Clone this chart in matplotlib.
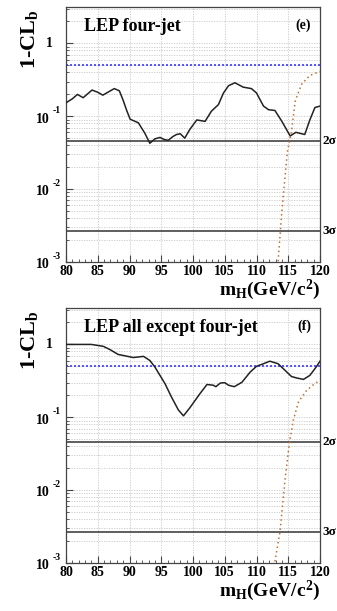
import numpy as np
import matplotlib
matplotlib.use("Agg")
import matplotlib.pyplot as plt
from matplotlib.ticker import MultipleLocator, LogLocator, NullFormatter, FixedLocator
import matplotlib.transforms as mtransforms

plt.rcParams['font.family'] = ['Liberation Serif', 'DejaVu Serif']
plt.rcParams['mathtext.fontset'] = 'custom'
plt.rcParams['mathtext.rm'] = 'Liberation Serif:bold'
plt.rcParams['mathtext.bf'] = 'Liberation Serif:bold'
plt.rcParams['mathtext.it'] = 'Liberation Serif:bold'

# ---- data: panel (e) LEP four-jet, observed 1-CLb (log10 values) ----
mh_e = [80.0, 81.0, 81.8, 82.7, 84.1, 85.0, 85.8, 86.8, 87.6, 88.4, 89.0, 89.6, 90.1,
        91.4, 92.4, 93.2, 94.0, 94.8, 95.5, 96.1, 96.8, 97.4, 98.0, 98.7, 99.5, 100.6,
        101.9, 102.9, 104.0, 104.8, 105.6, 106.6, 107.9, 109.2, 110.0, 111.1, 111.9,
        112.9, 114.0, 115.3, 116.2, 117.6, 118.4, 119.2, 120.0]
log_clb_e = [-0.815, -0.76, -0.70, -0.745, -0.64, -0.67, -0.71, -0.66, -0.62, -0.65, -0.78,
             -0.93, -1.04, -1.09, -1.23, -1.37, -1.31, -1.29, -1.32, -1.33, -1.28, -1.25,
             -1.24, -1.30, -1.18, -1.05, -1.07, -0.93, -0.84, -0.68, -0.58, -0.54, -0.60,
             -0.62, -0.68, -0.86, -0.91, -0.92, -1.07, -1.27, -1.22, -1.25, -1.05, -0.88,
             -0.86]

# expected 1-CLb for signal+background (panel e)
mh_sig_e = [113.4, 114.0, 114.85, 115.2, 115.5, 116.1, 117.1, 118.4, 120.0]
log_sig_e = [-2.99, -2.30, -1.49, -1.35, -1.21, -0.79, -0.56, -0.44, -0.385]

# ---- data: panel (f) LEP all except four-jet ----
mh_f = [80.0, 82.0, 84.0, 85.9, 86.9, 88.2, 90.6, 92.2, 93.2, 94.0, 95.6, 96.6, 97.7,
        98.5, 99.5, 101.1, 102.2, 103.2, 103.6, 104.3, 105.0, 105.6, 106.5, 107.7,
        109.0, 110.0, 111.1, 112.1, 113.4, 114.5, 115.5, 116.3, 117.4, 118.4, 119.4,
        120.0]
log_clb_f = [0.0, 0.0, 0.0, -0.027, -0.07, -0.137, -0.18, -0.164, -0.22, -0.31, -0.54,
             -0.72, -0.90, -0.98, -0.87, -0.675, -0.55, -0.56, -0.58, -0.53, -0.525,
             -0.56, -0.58, -0.52, -0.38, -0.30, -0.265, -0.23, -0.265, -0.356, -0.44,
             -0.46, -0.48, -0.425, -0.31, -0.23]

mh_sig_f = [112.9, 113.7, 114.5, 115.2, 115.8, 116.6, 117.9, 119.0, 120.0]
log_sig_f = [-2.98, -2.57, -1.85, -1.34, -1.04, -0.79, -0.63, -0.55, -0.49]

panels = [
    dict(mh=mh_e, obs=log_clb_e, mhs=mh_sig_e, sig=log_sig_e, title='LEP four-jet', tag='(e)'),
    dict(mh=mh_f, obs=log_clb_f, mhs=mh_sig_f, sig=log_sig_f, title='LEP all except four-jet', tag='(f)'),
]
median_level = 0.5
sigma_levels = [(0.0455, '2σ'), (0.0027, '3σ')]
xticks = [80, 85, 90, 95, 100, 105, 110, 115, 120]

W, H = 337, 611
fig = plt.figure(figsize=(W / 100, H / 100), dpi=100)

def px_axes(l, t, r, b):
    return fig.add_axes([l / W, 1 - b / H, (r - l) / W, (b - t) / H])

axes_px = [(66, 7, 320, 262), (66, 308, 320, 563)]
gridc = '#c8c8c8'

for (l, t, r, b), p in zip(axes_px, panels):
    ax = px_axes(l, t, r, b)
    ax.set_yscale('log')
    ax.set_xlim(80, 120)
    ax.set_ylim(1e-3, 10 ** 0.5)
    for s in ax.spines.values():
        s.set_color('#444444')
        s.set_linewidth(0.9)
    # grid
    for xv in xticks[1:-1]:
        ax.axvline(xv, color=gridc, lw=0.6, ls=(0, (1.5, 1.5)), zorder=0)
    for k in range(-3, 1):
        for m in range(1, 10):
            yv = m * 10.0 ** k
            if 1e-3 < yv < 10 ** 0.5:
                ax.axhline(yv, color=gridc, lw=0.6, ls=(0, (1.5, 1.5)), zorder=0)
    ax.xaxis.set_major_locator(FixedLocator(xticks))
    ax.xaxis.set_minor_locator(MultipleLocator(1))
    ax.yaxis.set_major_locator(LogLocator(base=10, numticks=10))
    ax.yaxis.set_minor_locator(LogLocator(base=10, subs=np.arange(2, 10), numticks=20))
    ax.yaxis.set_major_formatter(NullFormatter())
    ax.yaxis.set_minor_formatter(NullFormatter())
    ax.tick_params(which='both', direction='in', top=False, right=False, color='#444444')
    ax.tick_params(axis='x', which='major', length=5, width=0.8, pad=2.5)
    ax.tick_params(axis='x', which='minor', length=2.5, width=0.6)
    ax.tick_params(axis='y', which='major', length=5, width=0.8)
    ax.tick_params(axis='y', which='minor', length=2.5, width=0.6)
    ax.set_xticklabels([str(v) for v in xticks], fontsize=10, fontweight='bold')

    # y tick labels in ROOT style
    trans = mtransforms.blended_transform_factory(ax.transAxes, ax.transData)
    ax.text(-0.052, 1.0, '1', transform=trans, ha='right', va='center',
            fontsize=10, fontweight='bold')
    for k in [-1, -2, -3]:
        yv = 10.0 ** k
        t1 = mtransforms.offset_copy(trans, fig=fig, x=0, y=-2, units='points')
        ax.text(-0.063, yv, '10', transform=t1, ha='right', va='center',
                fontsize=10, fontweight='bold')
        t2 = mtransforms.offset_copy(trans, fig=fig, x=0, y=4, units='points')
        ax.text(-0.051, yv, str(k), transform=t2, ha='left', va='center',
                fontsize=7, fontweight='bold')

    # reference lines
    ax.axhline(median_level, color='#3a3aff', lw=1.2, ls=(0, (1.2, 1.2)), zorder=2)
    for yv, lab in sigma_levels:
        ax.axhline(yv, color='#333333', lw=1.1, zorder=2)
        ax.text(1.008, yv, lab, transform=trans, ha='left', va='center',
                fontsize=9.5, fontweight='bold')

    ax.plot(p['mhs'], 10 ** np.array(p['sig']), color='#c07030', lw=1.1,
            ls=(0, (1, 2)), zorder=3)
    ax.plot(p['mh'], 10 ** np.array(p['obs']), color='#222222', lw=1.1, zorder=4)

    ax.text(0.07, 0.955, p['title'], transform=ax.transAxes, ha='left', va='top',
            fontsize=13, fontweight='bold')
    ax.text(0.965, 0.955, p['tag'], transform=ax.transAxes, ha='right', va='top',
            fontsize=10, fontweight='bold')

    # y label
    fig.text(30 / W, 1 - (t + 2) / H, r'1-CL$_\mathbf{b}$', rotation=90, ha='center',
             va='top', fontsize=16, fontweight='bold')
    # x label
    fig.text(r / W, 1 - (b + 40) / H, r'$\mathbf{m_H}$(GeV/c$^\mathbf{2}$)', ha='right',
             va='bottom', fontsize=14, fontweight='bold')

fig.savefig('out.png', dpi=100)
